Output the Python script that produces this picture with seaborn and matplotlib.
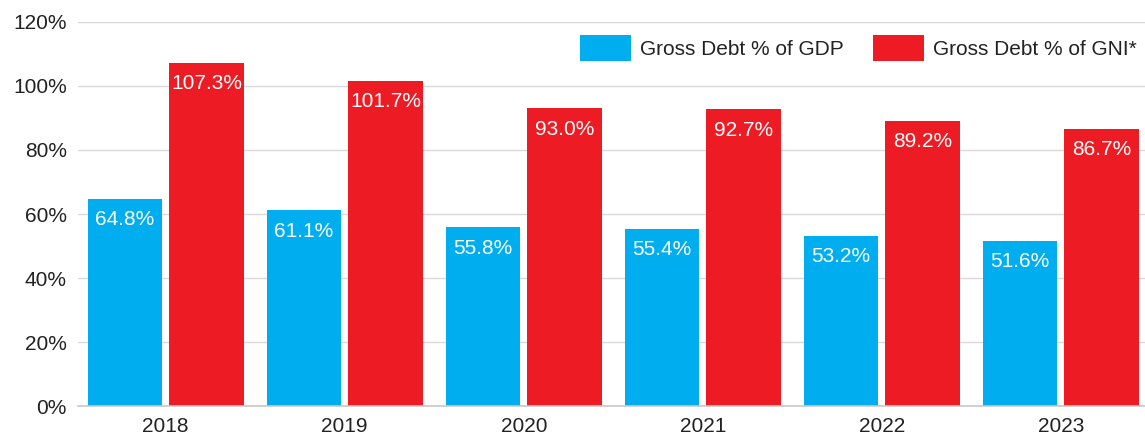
import matplotlib
matplotlib.use("Agg")
import matplotlib.pyplot as plt
import seaborn as sns
import pandas as pd
from matplotlib.ticker import FuncFormatter

years = ["2018", "2019", "2020", "2021", "2022", "2023"]
debt_gdp = [64.8, 61.1, 55.8, 55.4, 53.2, 51.6]
debt_gni = [107.3, 101.7, 93.0, 92.7, 89.2, 86.7]
series_names = ["Gross Debt % of GDP", "Gross Debt % of GNI*"]
palette = ["#00AEEF", "#ED1C24"]

df = pd.DataFrame({
    "year": years * 2,
    "value": debt_gdp + debt_gni,
    "series": [series_names[0]] * len(years) + [series_names[1]] * len(years),
})

sns.set_theme(style="white")
plt.rcParams["font.family"] = ["Liberation Sans", "DejaVu Sans"]

fig = plt.figure(figsize=(11.45, 4.36), dpi=100)
ax = fig.add_axes([78 / 1145, 30 / 436, (1145 - 78) / 1145, (406 - 22) / 436])

sns.barplot(data=df, x="year", y="value", hue="series", palette=palette,
            width=0.91, gap=0.086, saturation=1, linewidth=0, ax=ax, legend=True)

for container in ax.containers:
    for bar in container:
        h = bar.get_height()
        ax.annotate(f"{h:.1f}%", (bar.get_x() + bar.get_width() / 2, h),
                    xytext=(0, -15), textcoords="offset points",
                    ha="center", va="center", color="white", fontsize=15)

ax.set_ylim(0, 120)
ax.set_xlim(-0.49, 5.47)
ax.set_yticks(range(0, 121, 20))
ax.yaxis.set_major_formatter(FuncFormatter(lambda v, _: f"{v:.0f}%"))
ax.grid(axis="y", color="#d9d9d9", linewidth=1)
ax.set_axisbelow(True)
ax.set_xlabel("")
ax.set_ylabel("")
for side in ["left", "right", "top"]:
    ax.spines[side].set_visible(False)
ax.spines["bottom"].set_color("#c8c8c8")
ax.spines["bottom"].set_linewidth(1.2)
ax.tick_params(axis="both", length=0, labelsize=15, labelcolor="#222222")
ax.tick_params(axis="y", pad=8)
ax.tick_params(axis="x", pad=8)

ax.legend(loc="center right", bbox_to_anchor=(1.0, 0.932), borderaxespad=0,
          ncol=2, frameon=False, fontsize=15, handlelength=2.45,
          handleheight=1.54, handletextpad=0.43, columnspacing=1.4,
          labelcolor="#222222")

fig.savefig("out.png", dpi=100, facecolor="white")
